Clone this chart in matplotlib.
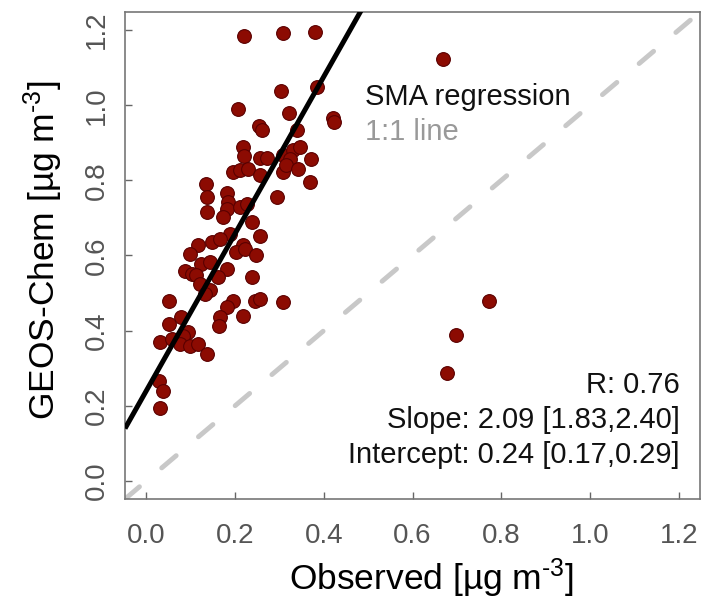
import matplotlib
matplotlib.use("Agg")
import numpy as np
import matplotlib.pyplot as plt

plt.rcParams["font.family"] = ["Liberation Sans", "DejaVu Sans"]
plt.rcParams["mathtext.fontset"] = "custom"
plt.rcParams["mathtext.rm"] = "Liberation Sans"
plt.rcParams["mathtext.it"] = "Liberation Sans:italic"

# -----------------------------
# DATA
# -----------------------------
observed = [
    0.220, 0.307, 0.381, 0.668, 0.303, 0.385, 0.207, 0.322, 0.420, 0.423,
    0.254, 0.260, 0.340, 0.217, 0.220, 0.256, 0.271, 0.308, 0.331, 0.346,
    0.372, 0.324, 0.196, 0.211, 0.230, 0.256, 0.307, 0.316, 0.342, 0.369,
    0.134, 0.181, 0.294, 0.136, 0.184, 0.182, 0.211, 0.226, 0.137, 0.173,
    0.239, 0.257, 0.188, 0.117, 0.147, 0.166, 0.218, 0.098, 0.203, 0.222,
    0.248, 0.087, 0.102, 0.124, 0.143, 0.181, 0.113, 0.162, 0.239, 0.121,
    0.143, 0.132, 0.051, 0.196, 0.181, 0.166, 0.164, 0.245, 0.256, 0.307,
    0.217, 0.079, 0.051, 0.094, 0.083, 0.030, 0.057, 0.076, 0.098, 0.117,
    0.136, 0.029, 0.038, 0.032, 0.772, 0.698, 0.678,
]
geos_chem = [
    1.183, 1.191, 1.196, 1.123, 1.037, 1.049, 0.991, 0.978, 0.966, 0.956,
    0.945, 0.933, 0.933, 0.889, 0.865, 0.860, 0.860, 0.867, 0.880, 0.889,
    0.858, 0.858, 0.822, 0.827, 0.831, 0.813, 0.822, 0.840, 0.829, 0.796,
    0.791, 0.765, 0.756, 0.756, 0.742, 0.724, 0.729, 0.738, 0.717, 0.702,
    0.689, 0.652, 0.658, 0.627, 0.636, 0.645, 0.627, 0.605, 0.609, 0.618,
    0.600, 0.560, 0.551, 0.578, 0.582, 0.565, 0.547, 0.542, 0.542, 0.525,
    0.507, 0.498, 0.480, 0.480, 0.462, 0.436, 0.413, 0.480, 0.485, 0.477,
    0.438, 0.436, 0.418, 0.396, 0.387, 0.369, 0.378, 0.365, 0.360, 0.365,
    0.338, 0.267, 0.240, 0.193, 0.478, 0.389, 0.287,
]

sma_slope = 2.09
sma_intercept = 0.24
stats_lines = ["R: 0.76", "Slope: 2.09 [1.83,2.40]", "Intercept: 0.24 [0.17,0.29]"]
ticks = [0.0, 0.2, 0.4, 0.6, 0.8, 1.0, 1.2]
lims = (-0.048, 1.248)

# -----------------------------
# PLOT
# -----------------------------
fig = plt.figure(figsize=(7.03, 5.99), dpi=100)
ax = fig.add_axes([125 / 703, 1 - 499 / 599, 575 / 703, 487 / 599])

ax.scatter(observed, geos_chem, s=98, facecolor="#8c0b02",
           edgecolor="#5a0000", linewidth=0.8, zorder=2)

# 1:1 line
line_x = np.array(lims)
ax.plot(line_x, line_x, color="#c8c8c8", lw=3.5, dashes=(3.9, 6.0),
        dash_capstyle="round", zorder=1)
# SMA regression line
ax.plot(line_x, sma_intercept + sma_slope * line_x, color="black", lw=3.6,
        solid_capstyle="butt", zorder=3)

ax.set_xlim(lims)
ax.set_ylim(lims)
ax.set_xticks(ticks)
ax.set_yticks(ticks)
ax.set_xticklabels([f"{t:.1f}" for t in ticks])
ax.set_yticklabels([f"{t:.1f}" for t in ticks], rotation=90, va="center")
ax.tick_params(direction="in", length=5, width=1, color="#666666",
               labelcolor="#555555", labelsize=20)
ax.tick_params(axis="x", pad=17)
ax.tick_params(axis="y", pad=11)
for sp in ax.spines.values():
    sp.set_color("#777777")
    sp.set_linewidth(1.2)

ax.text(0.417, 0.809, "SMA regression", transform=ax.transAxes,
        fontsize=21, color="#111111", va="baseline", ha="left")
ax.text(0.417, 0.737, "1:1 line", transform=ax.transAxes,
        fontsize=21, color="#999999", va="baseline", ha="left")

for txt, yy in zip(stats_lines, [0.218, 0.145, 0.074]):
    ax.text(0.965, yy, txt, transform=ax.transAxes, fontsize=21,
            color="#111111", va="baseline", ha="right")

fig.text(0.614, 0.035, r"Observed [µg m$^{\text{-3}}$]", fontsize=25.5,
         ha="center", va="center")
fig.text(0.061, 0.583, r"GEOS-Chem [µg m$^{\text{-3}}$]", fontsize=25.5,
         ha="center", va="center", rotation=90)

fig.savefig("out.png", dpi=100)
